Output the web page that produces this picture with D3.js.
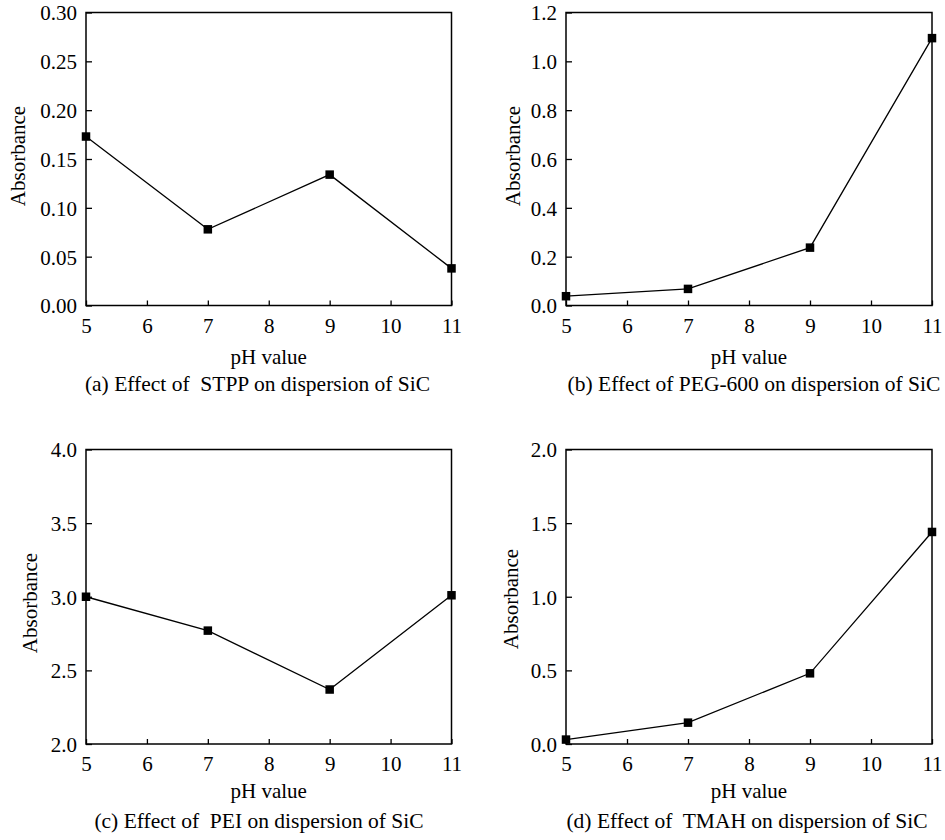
<!DOCTYPE html>
<html>
<head>
<meta charset="utf-8">
<script src="https://cdn.jsdelivr.net/npm/d3@7"></script>
<style>
  html, body { margin: 0; padding: 0; background: #fff; }
  svg { display: block; }
</style>
</head>
<body>
<svg id="chart" width="945" height="840"></svg>
<script>
// pH values shared by all four panels
const phValues = [5, 7, 9, 11];
const phTicks = [5, 6, 7, 8, 9, 10, 11];

// Absorbance of the SiC suspension for each dispersant
const stppAbs = [0.173, 0.078, 0.134, 0.038];
const pegAbs  = [0.038, 0.068, 0.237, 1.095];
const peiAbs  = [3.00, 2.77, 2.37, 3.01];
const tmahAbs = [0.030, 0.145, 0.480, 1.440];

// Y axis ranges and tick labels
const stppTicks = [0.00, 0.05, 0.10, 0.15, 0.20, 0.25, 0.30];
const pegTicks  = [0.0, 0.2, 0.4, 0.6, 0.8, 1.0, 1.2];
const peiTicks  = [2.0, 2.5, 3.0, 3.5, 4.0];
const tmahTicks = [0.0, 0.5, 1.0, 1.5, 2.0];

const captions = [
  "(a) Effect of  STPP on dispersion of SiC",
  "(b) Effect of PEG-600 on dispersion of SiC",
  "(c) Effect of  PEI on dispersion of SiC",
  "(d) Effect of  TMAH on dispersion of SiC"
];

const xLabel = "pH value";
const yLabel = "Absorbance";

const FONT = "'Liberation Serif', 'Times New Roman', Times, 'DejaVu Serif', serif";

const svg = d3.select("#chart");

// panel layout
const panels = [
  { values: stppAbs, ticks: stppTicks, fmt: ".2f", caption: captions[0],
    box: { l: 86, r: 451.5, t: 12.5, b: 305.5 }, yLabX: 25, yLabY: 156, capX: 257.5, capY: 391, xLabY: 364 },
  { values: pegAbs, ticks: pegTicks, fmt: ".1f", caption: captions[1],
    box: { l: 566, r: 932, t: 12.5, b: 305.5 }, yLabX: 520, yLabY: 156, capX: 754, capY: 391, xLabY: 364 },
  { values: peiAbs, ticks: peiTicks, fmt: ".1f", caption: captions[2],
    box: { l: 86, r: 451.5, t: 449.5, b: 744 }, yLabX: 36.5, yLabY: 603, capX: 259, capY: 828, xLabY: 798 },
  { values: tmahAbs, ticks: tmahTicks, fmt: ".1f", caption: captions[3],
    box: { l: 566, r: 932, t: 449.5, b: 744 }, yLabX: 518, yLabY: 599, capX: 747, capY: 828, xLabY: 798 }
];

function styleText(sel, size) {
  sel.attr("font-family", FONT)
     .attr("font-size", size)
     .attr("fill", "#000")
     .style("font-family", FONT)
     .style("white-space", "pre");
}

panels.forEach(p => {
  const { l, r, t, b } = p.box;
  const x = d3.scaleLinear().domain([5, 11]).range([l, r]);
  const y = d3.scaleLinear().domain(d3.extent(p.ticks)).range([b, t]);
  const g = svg.append("g");

  // left axis with inward ticks
  const yAxis = d3.axisLeft(y)
    .tickValues(p.ticks)
    .tickFormat(d3.format(p.fmt))
    .tickSizeInner(-6).tickSizeOuter(0).tickPadding(9);
  const ya = g.append("g").attr("transform", `translate(${l},0)`).call(yAxis);
  ya.attr("font-family", FONT);
  ya.select(".domain").remove();
  ya.selectAll("line").attr("stroke", "#000").attr("stroke-width", 1.3);
  styleText(ya.selectAll("text").attr("dy", "0.35em"), 21);

  // bottom axis with inward ticks
  const xAxis = d3.axisBottom(x)
    .tickValues(phTicks)
    .tickFormat(d3.format("d"))
    .tickSizeInner(-5).tickSizeOuter(0).tickPadding(12.4);
  const xa = g.append("g").attr("transform", `translate(0,${b})`).call(xAxis);
  xa.attr("font-family", FONT);
  xa.select(".domain").remove();
  xa.selectAll("line").attr("stroke", "#000").attr("stroke-width", 1.3);
  styleText(xa.selectAll("text"), 21);

  // frame
  g.append("rect")
    .attr("x", l).attr("y", t)
    .attr("width", r - l).attr("height", b - t)
    .attr("fill", "none").attr("stroke", "#000").attr("stroke-width", 1.5);

  // data line
  const pts = phValues.map((ph, i) => [ph, p.values[i]]);
  g.append("path")
    .datum(pts)
    .attr("fill", "none").attr("stroke", "#000").attr("stroke-width", 1.3)
    .attr("d", d3.line().x(d => x(d[0])).y(d => y(d[1])));

  // square markers
  const s = 8.5;
  g.selectAll("rect.pt").data(pts).join("rect")
    .attr("class", "pt")
    .attr("x", d => x(d[0]) - s / 2).attr("y", d => y(d[1]) - s / 2)
    .attr("width", s).attr("height", s).attr("fill", "#000");

  // axis titles
  styleText(g.append("text")
    .attr("x", (l + r) / 2).attr("y", p.xLabY)
    .attr("text-anchor", "middle")
    .text(xLabel), 21);
  styleText(g.append("text")
    .attr("transform", `translate(${p.yLabX},${p.yLabY}) rotate(-90)`)
    .attr("text-anchor", "middle")
    .text(yLabel), 21);

  // caption
  styleText(g.append("text")
    .attr("x", p.capX).attr("y", p.capY)
    .attr("text-anchor", "middle")
    .text(p.caption), 21.5);
});
</script>
</body>
</html>
